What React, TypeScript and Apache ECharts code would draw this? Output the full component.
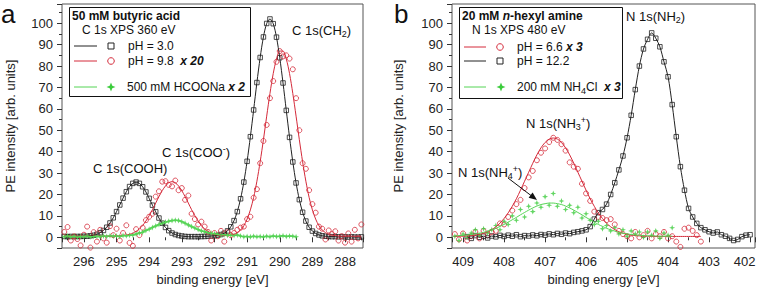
import React, { useEffect, useRef } from 'react';
import * as echarts from 'echarts';

// ---------- Panel a: 50 mM butyric acid, C 1s ----------
const aEnergy = [
  296.6, 296.5, 296.4, 296.3, 296.2, 296.1, 296.0, 295.9, 295.8, 295.7,
  295.6, 295.5, 295.4, 295.3, 295.2, 295.1, 295.0, 294.9, 294.8, 294.7,
  294.6, 294.5, 294.4, 294.3, 294.2, 294.1, 294.0, 293.9, 293.8, 293.7,
  293.6, 293.5, 293.4, 293.3, 293.2, 293.1, 293.0, 292.9, 292.8, 292.7,
  292.6, 292.5, 292.4, 292.3, 292.2, 292.1, 292.0, 291.9, 291.8, 291.7,
  291.6, 291.5, 291.4, 291.3, 291.2, 291.1, 291.0, 290.9, 290.8, 290.7,
  290.6, 290.5, 290.4, 290.3, 290.2, 290.1, 290.0, 289.9, 289.8, 289.7,
  289.6, 289.5, 289.4, 289.3, 289.2, 289.1, 289.0, 288.9, 288.8, 288.7,
  288.6, 288.5, 288.4, 288.3, 288.2, 288.1, 288.0, 287.9, 287.8, 287.7,
  287.6, 287.5,
];
// pH = 3.0 (black squares, fit through them)
const aBlack = [
  0.4, 0.3, 0.4, 0.3, 0.4, 0.4, 0.5, 0.5, 0.7, 0.95,
  1.4, 2.15, 3.2, 4.7, 6.7, 9.1, 12.0, 15.1, 18.3, 21.3,
  23.7, 25.2, 25.8, 25.2, 23.6, 21.2, 18.2, 15.0, 11.9, 9.0,
  6.6, 4.6, 3.1, 2.0, 1.3, 0.85, 0.6, 0.4, 0.3, 0.3,
  0.3, 0.3, 0.35, 0.4, 0.5, 0.6, 0.7, 0.9, 1.3, 1.9,
  3.0, 4.9, 7.8, 12.0, 18.0, 25.8, 35.5, 47.0, 59.5, 72.3,
  84.0, 93.6, 99.9, 102.0, 99.8, 93.5, 83.9, 72.1, 59.3, 46.7,
  35.2, 25.4, 17.6, 11.7, 7.6, 4.7, 2.9, 1.8, 1.1, 0.7,
  0.5, 0.4, 0.3, 0.3, 0.2, 0.3, 0.2, 0.1, 0.2, 0.1,
  0.1, 0.2,
];
// pH = 9.8 x 20 (red circles)
const aRed = [
  2.5, 4.8, -1.5, 0.5, -0.8, -3.8, 1.2, 5.0, -4.8, 2.4,
  -2.0, 3.5, -0.5, -2.5, 5.2, 1.0, 4.0, -1.5, 2.0, 5.6,
  -2.6, -4.0, 3.8, 1.0, 4.5, 8.0, 9.6, 11.0, 19.0, 21.5,
  26.0, 26.2, 24.5, 23.8, 26.5, 22.0, 23.0, 17.5, 19.5, 11.0,
  8.5, 6.0, 7.3, 5.0, 2.5, -1.5, 2.0, 0.5, 3.0, -2.0,
  2.4, 1.0, 2.0, 3.5, 4.5, 5.0, 8.5, 9.6, 18.5, 22.5,
  34.6, 45.0, 52.5, 65.0, 73.0, 82.0, 87.0, 84.5, 85.0, 83.5,
  78.5, 65.0, 50.0, 34.6, 32.0, 22.0, 15.5, 11.5, 5.0, 4.0,
  -1.0, 3.2, 1.5, 2.8, -1.5, 0.5, -2.5, 1.8, -2.0, 3.5,
  -0.5, 6.0,
];
// fit of pH = 9.8
const aRedFit = [
  0.5, 0.5, 0.5, 0.5, 0.5, 0.5, 0.5, 0.5, 0.5, 0.5,
  0.5, 0.5, 0.5, 0.5, 0.5, 0.5, 0.5, 0.65, 0.8, 1.0,
  1.4, 1.9, 2.8, 3.9, 5.5, 7.6, 10.1, 12.9, 16.0, 19.0,
  21.8, 24.0, 25.5, 26.0, 25.5, 24.0, 21.8, 19.0, 16.0, 12.9,
  10.1, 7.6, 5.5, 3.9, 2.8, 1.9, 1.4, 1.0, 0.85, 0.8,
  0.8, 1.0, 1.4, 2.2, 3.4, 5.4, 8.5, 12.8, 18.6, 26.2,
  35.3, 45.6, 56.6, 67.2, 76.5, 83.3, 87.0, 87.0, 83.3, 76.5,
  67.2, 56.6, 45.6, 35.3, 26.2, 18.6, 12.8, 8.5, 5.4, 3.4,
  2.2, 1.4, 1.0, 0.8, 0.6, 0.5, 0.5, 0.5, 0.5, 0.5,
  0.5, 0.5,
];
// 500 mM HCOONa x 2 (green, 296.6 ... 289.5)
const aGreen = [
  0.3, 0.6, 0.2, 0.5, 0.1, 0.4, 0.3, 0.6, 0.2, 0.4,
  0.5, 0.3, 0.6, 0.4, 0.7, 0.5, 0.6, 0.4, 0.8, 0.7,
  1.0, 1.1, 1.5, 2.0, 2.4, 3.2, 3.8, 4.6, 5.3, 6.0,
  6.6, 7.1, 7.5, 7.8, 8.0, 7.8, 7.3, 6.6, 5.8, 5.0,
  4.3, 3.6, 3.0, 2.6, 2.2, 1.9, 1.6, 1.3, 1.1, 1.2,
  0.9, 1.0, 0.8, 1.1, 0.6, 0.3, 0.4, 0.2, 0.5, 0.3,
  0.4, 0.2, 0.5, 0.3, 0.6, 0.4, 0.5, 0.7, 0.4, 0.6,
  0.5, 0.3,
];

// ---------- Panel b: 20 mM n-hexyl amine, N 1s ----------
const bEnergy = [
  409.2, 409.1, 409.0, 408.9, 408.8, 408.7, 408.6, 408.5, 408.4, 408.3,
  408.2, 408.1, 408.0, 407.9, 407.8, 407.7, 407.6, 407.5, 407.4, 407.3,
  407.2, 407.1, 407.0, 406.9, 406.8, 406.7, 406.6, 406.5, 406.4, 406.3,
  406.2, 406.1, 406.0, 405.9, 405.8, 405.7, 405.6, 405.5, 405.4, 405.3,
  405.2, 405.1, 405.0, 404.9, 404.8, 404.7, 404.6, 404.5, 404.4, 404.3,
  404.2, 404.1, 404.0, 403.9, 403.8, 403.7, 403.6, 403.5, 403.4, 403.3,
  403.2, 403.1, 403.0, 402.9, 402.8, 402.7, 402.6, 402.5, 402.4, 402.3,
  402.2, 402.1, 402.0,
];
// pH = 6.6 x 3 (red circles, 409.2 ... 403.2)
const bRed = [
  1.5, -1.0, 1.8, -1.5, 0.5, 2.5, -0.5, 3.0, 1.0, 2.5,
  3.0, 6.5, 6.0, 9.5, 12.5, 15.5, 17.5, 23.0, 28.0, 31.0,
  36.0, 39.5, 41.5, 44.5, 46.5, 45.5, 43.5, 40.5, 35.0, 33.0,
  32.0, 25.0, 20.5, 17.0, 12.0, 9.5, 9.0, 8.0, 8.5, 6.0,
  3.0, 1.5, 0.5, -0.5, 2.5, 0.0, 1.0, 3.0, -0.5, 1.5,
  0.5, 2.5, -0.5, 0.5, -2.0, -4.5, 4.0, 4.5, 3.0, 1.0,
  -2.0,
];
const bRedFit = [
  0.45, 0.5, 0.55, 0.65, 0.8, 1.0, 1.4, 1.9, 2.6, 3.6,
  4.9, 6.6, 8.8, 11.4, 14.5, 18.0, 22.0, 26.2, 30.4, 34.6,
  38.5, 41.8, 44.3, 45.9, 46.4, 45.9, 44.3, 41.8, 38.5, 34.6,
  30.4, 26.2, 22.0, 18.0, 14.5, 11.4, 8.8, 6.6, 4.9, 3.6,
  2.6, 1.9, 1.4, 1.0, 0.8, 0.65, 0.55, 0.5, 0.45, 0.4,
  0.4, 0.4, 0.4, 0.4, 0.4, 0.4, 0.4, 0.4, 0.4, 0.4,
  0.4,
];
// pH = 12.2 (black squares, 408.9 ... 402.0)
const bBlack = [
  0.3, -0.5, 0.8, 0.0, 0.5, -0.3, 0.6, 0.2, 0.9, 0.4,
  1.0, 0.5, 1.2, 0.3, 0.8, 0.6, 1.1, 0.7, 1.3, 1.0,
  1.6, 1.2, 1.8, 1.4, 2.0, 1.7, 2.3, 2.6, 3.0, 3.5,
  5.0, 8.5, 11.5, 13.0, 15.5, 20.0, 25.5, 31.5, 38.0, 46.5,
  57.0, 69.0, 80.0, 88.0, 92.5, 95.5, 93.0, 89.0, 82.0, 75.0,
  62.0, 47.0, 33.0, 22.0, 13.5, 9.5, 6.5, 4.5, 3.5, 2.6,
  2.0, 2.5, 1.2, 0.5, -0.5, -1.5, -1.0, 0.3, 1.0, 1.2,
];
// 200 mM NH4Cl x 3 (green, 409.2 ... 403.9)
const bGreen = [
  0.5, -1.5, 1.5, 0.0, 2.0, 3.5, 1.0, 4.0, 2.0, 3.5,
  5.5, 3.5, 7.5, 6.0, 10.0, 8.0, 13.0, 9.5, 14.5, 12.0,
  16.0, 14.0, 19.0, 15.0, 20.5, 14.5, 17.0, 13.0, 15.0, 11.5,
  14.0, 9.0, 11.0, 8.0, 6.0, 7.5, 4.0, 5.5, 3.0, 4.5,
  1.5, 3.5, 0.5, 3.0, 1.5, 2.5, 0.0, 2.5, 1.0, 3.0,
  -0.5, 2.0, 1.0, 4.5,
];
const bGreenFit = [
  0.7, 0.8, 0.9, 1.1, 1.3, 1.6, 1.9, 2.3, 2.9, 3.5,
  4.2, 5.1, 6.0, 7.1, 8.2, 9.3, 10.5, 11.6, 12.7, 13.7,
  14.6, 15.3, 15.7, 16.0, 16.0, 15.7, 15.3, 14.6, 13.7, 12.7,
  11.6, 10.5, 9.3, 8.2, 7.1, 6.0, 5.1, 4.2, 3.5, 2.9,
  2.3, 1.9, 1.6, 1.3, 1.1, 0.9, 0.8, 0.7, 0.6, 0.6,
  0.5, 0.5, 0.5, 0.5,
];

const FONT = 'Liberation Sans, Arial, sans-serif';
const BLACK = '#222222';
const RED = '#d42a3a';
const GREEN = '#3ccc3c';
const GREEN_LINE = '#55d455';
const STAR = 'path://M0,-10L2.6,-2.6L10,0L2.6,2.6L0,10L-2.6,2.6L-10,0L-2.6,-2.6Z';

const zip = (xs: number[], ys: number[]) => ys.map((y, i) => [xs[i], y]);

const rich = {
  t: { fontSize: 13, lineHeight: 16, verticalAlign: 'middle', fontFamily: FONT, fill: '#111' },
  l: { fontSize: 12, lineHeight: 16, verticalAlign: 'middle', fontFamily: FONT, fill: '#111' },
  lb: { fontSize: 12, lineHeight: 16, verticalAlign: 'middle', fontFamily: FONT, fill: '#111', fontWeight: 'bold' },
  bi: { fontSize: 12, lineHeight: 16, verticalAlign: 'middle', fontFamily: FONT, fill: '#111', fontWeight: 'bold', fontStyle: 'italic' },
  sub: { fontSize: 9, lineHeight: 9, verticalAlign: 'bottom', fontFamily: FONT, fill: '#111' },
  sup: { fontSize: 9, lineHeight: 9, verticalAlign: 'top', fontFamily: FONT, fill: '#111' },
};

const txt = (x: number, y: number, text: string) => ({
  type: 'text',
  x,
  y,
  z: 100,
  style: { text, rich, fontFamily: FONT, fontSize: 12, fill: '#111', verticalAlign: 'middle', align: 'left' },
});

const hline = (x1: number, x2: number, y: number, color: string) => ({
  type: 'line',
  z: 100,
  shape: { x1, y1: y, x2, y2: y },
  style: { stroke: color, lineWidth: 1 },
});

const square = (cx: number, cy: number) => ({
  type: 'rect',
  z: 100,
  shape: { x: cx - 3, y: cy - 3, width: 6, height: 6 },
  style: { fill: 'none', stroke: BLACK, lineWidth: 1 },
});
const circle = (cx: number, cy: number) => ({
  type: 'circle',
  z: 100,
  shape: { cx, cy, r: 3.3 },
  style: { fill: 'none', stroke: RED, lineWidth: 1 },
});
const star = (cx: number, cy: number) => ({
  type: 'polygon',
  z: 100,
  shape: {
    points: [
      [cx, cy - 4.5], [cx + 1.3, cy - 1.3], [cx + 4.5, cy], [cx + 1.3, cy + 1.3],
      [cx, cy + 4.5], [cx - 1.3, cy + 1.3], [cx - 4.5, cy], [cx - 1.3, cy - 1.3],
    ],
  },
  style: { fill: GREEN },
});

function buildOption() {
  const xAxisCommon = {
    type: 'value',
    inverse: true,
    splitNumber: 9,
    axisLine: { show: false },
    axisTick: { show: true, inside: false, length: 5, lineStyle: { color: '#333', width: 1 } },
    minorTick: { show: true, splitNumber: 2, length: 3, lineStyle: { color: '#333', width: 1 } },
    splitLine: { show: false },
    axisLabel: {
      fontSize: 13, color: '#222', fontFamily: FONT, margin: 7,
      showMinLabel: false, showMaxLabel: false,
      formatter: (v: number) => {
        const s = String(Math.round(v));
        // the last label of panel b sits flush with the picture's right edge
        return Math.round(v) === 402 ? '{e|' + s + '}' : s;
      },
      rich: { e: { fontSize: 13, color: '#222', fontFamily: FONT, padding: [0, 11, 0, 0] } },
    },
    name: 'binding energy [eV]',
    nameLocation: 'middle',
    nameGap: 25,
    nameTextStyle: { fontSize: 13, color: '#222', fontFamily: FONT },
  };
  const yAxisCommon = {
    type: 'value',
    min: -5,
    max: 109,
    splitNumber: 10,
    axisLine: { show: false },
    axisTick: { show: true, inside: false, length: 5, lineStyle: { color: '#333', width: 1 } },
    minorTick: { show: true, splitNumber: 2, length: 3, lineStyle: { color: '#333', width: 1 } },
    splitLine: { show: false },
    axisLabel: {
      fontSize: 13, color: '#222', fontFamily: FONT, margin: 9,
      showMinLabel: false, showMaxLabel: false,
    },
    name: 'PE intensity [arb. units]',
    nameLocation: 'middle',
    nameTextStyle: { fontSize: 13, color: '#222', fontFamily: FONT },
  };

  const lineS = (xi: number, data: number[][], color: string, width = 1) => ({
    type: 'line', xAxisIndex: xi, yAxisIndex: xi, data, showSymbol: false, smooth: 0.3,
    lineStyle: { color, width }, itemStyle: { color }, silent: true,
  });
  const scat = (xi: number, data: number[][], kind: 'sq' | 'ci' | 'st') => ({
    type: 'scatter', xAxisIndex: xi, yAxisIndex: xi, data, silent: true,
    symbol: kind === 'sq' ? 'rect' : kind === 'ci' ? 'circle' : STAR,
    symbolSize: kind === 'sq' ? 4.5 : kind === 'ci' ? 5 : 6,
    itemStyle: kind === 'st'
      ? { color: GREEN }
      : { color: 'rgba(255,255,255,0)', borderColor: kind === 'sq' ? BLACK : RED, borderWidth: 1 },
  });

  const aGreenX = aEnergy.slice(0, aGreen.length);
  const bRedX = bEnergy.slice(0, bRed.length);
  const bGreenX = bEnergy.slice(0, bGreen.length);
  const bBlackX = bEnergy.slice(bEnergy.length - bBlack.length);

  const gridCommon = {
    show: true, borderColor: '#555', borderWidth: 1, backgroundColor: 'transparent',
    containLabel: false, outerBoundsMode: 'none',
  };

  return {
    animation: false,
    backgroundColor: '#ffffff',
    grid: [
      { ...gridCommon, left: 62, top: 4, width: 301, height: 244 },
      { ...gridCommon, left: 452, top: 4, width: 303, height: 244 },
    ],
    xAxis: [
      { ...xAxisCommon, gridIndex: 0, min: 287.45, max: 296.67 },
      { ...xAxisCommon, gridIndex: 1, min: 401.88, max: 409.27, splitNumber: 7 },
    ],
    yAxis: [
      { ...yAxisCommon, gridIndex: 0, nameGap: 45 },
      { ...yAxisCommon, gridIndex: 1, nameGap: 47 },
    ],
    series: [
      lineS(0, zip(aEnergy, aBlack), BLACK),
      scat(0, zip(aEnergy, aBlack), 'sq'),
      lineS(0, zip(aEnergy, aRedFit), RED),
      scat(0, zip(aEnergy, aRed), 'ci'),
      lineS(0, zip(aGreenX, aGreen), GREEN_LINE, 1.5),
      scat(0, zip(aGreenX, aGreen), 'st'),

      lineS(1, zip(bBlackX, bBlack), BLACK),
      scat(1, zip(bBlackX, bBlack), 'sq'),
      lineS(1, zip(bRedX, bRedFit), RED),
      scat(1, zip(bRedX, bRed), 'ci'),
      lineS(1, zip(bGreenX, bGreenFit), GREEN_LINE, 1),
      scat(1, zip(bGreenX, bGreen), 'st'),
    ],
    graphic: [
      // panel letters
      { type: 'text', x: 1, y: 14, z: 100, style: { text: 'a', fontSize: 26, fontFamily: FONT, fill: '#111', verticalAlign: 'middle' } },
      { type: 'text', x: 394, y: 14, z: 100, style: { text: 'b', fontSize: 26, fontFamily: FONT, fill: '#111', verticalAlign: 'middle' } },

      // legend a
      { type: 'rect', z: 99, shape: { x: 69.5, y: 7.5, width: 181, height: 89 }, style: { fill: '#fff', stroke: '#111', lineWidth: 1 } },
      txt(72, 16, '{lb|50 mM butyric acid}'),
      txt(82, 30, '{l|C 1s XPS 360 eV}'),
      hline(74, 97, 46, BLACK), square(111, 46), txt(128, 46, '{l|pH = 3.0}'),
      hline(74, 97, 61, RED), circle(111, 61), txt(128, 61, '{l|pH = 9.8}  {bi|x 20}'),
      hline(74, 97, 87, GREEN_LINE), star(111, 87), txt(127, 87, '{l|500 mM HCOONa} {bi|x 2}'),

      // legend b
      { type: 'rect', z: 99, shape: { x: 459.5, y: 7.5, width: 163, height: 91 }, style: { fill: '#fff', stroke: '#111', lineWidth: 1 } },
      txt(462, 16, '{lb|20 mM }{bi|n}{lb|-hexyl amine}'),
      txt(472, 30, '{l|N 1s XPS 480 eV}'),
      hline(464, 486, 47, RED), circle(500, 47), txt(517, 47, '{l|pH = 6.6} {bi|x 3}'),
      hline(464, 486, 61, BLACK), square(500, 61), txt(517, 61, '{l|pH = 12.2}'),
      hline(464, 486, 87, GREEN_LINE), star(501, 87), txt(517, 87, '{l|200 mM NH}{sub|4}{l|Cl}  {bi|x 3}'),

      // peak annotations a
      txt(292, 30, '{t|C 1s(CH}{sub|2}{t|)}'),
      txt(162, 152, '{t|C 1s(COO}{sup|-}{t|)}'),
      txt(93, 168, '{t|C 1s(COOH)}'),

      // peak annotations b
      txt(626, 16, '{t|N 1s(NH}{sub|2}{t|)}'),
      txt(526, 123, '{t|N 1s(NH}{sub|3}{sup|+}{t|)}'),
      txt(458, 172, '{t|N 1s(NH}{sub|4}{sup|+}{t|)}'),

      // arrow
      { type: 'line', z: 100, shape: { x1: 508, y1: 178, x2: 531, y2: 195.5 }, style: { stroke: '#111', lineWidth: 1 } },
      { type: 'polygon', z: 100, shape: { points: [[537, 200], [528.6, 197.8], [532.6, 192.4]] }, style: { fill: '#111' } },
    ],
  };
}

export default function App() {
  const ref = useRef<HTMLDivElement>(null);
  useEffect(() => {
    if (!ref.current) return;
    const chart = echarts.init(ref.current, null, { renderer: 'svg' });
    chart.setOption(buildOption() as any);
    return () => chart.dispose();
  }, []);
  return (
    <div
      ref={ref}
      style={{ position: 'absolute', left: 0, top: 0, width: 757, height: 293, background: '#fff' }}
    />
  );
}
